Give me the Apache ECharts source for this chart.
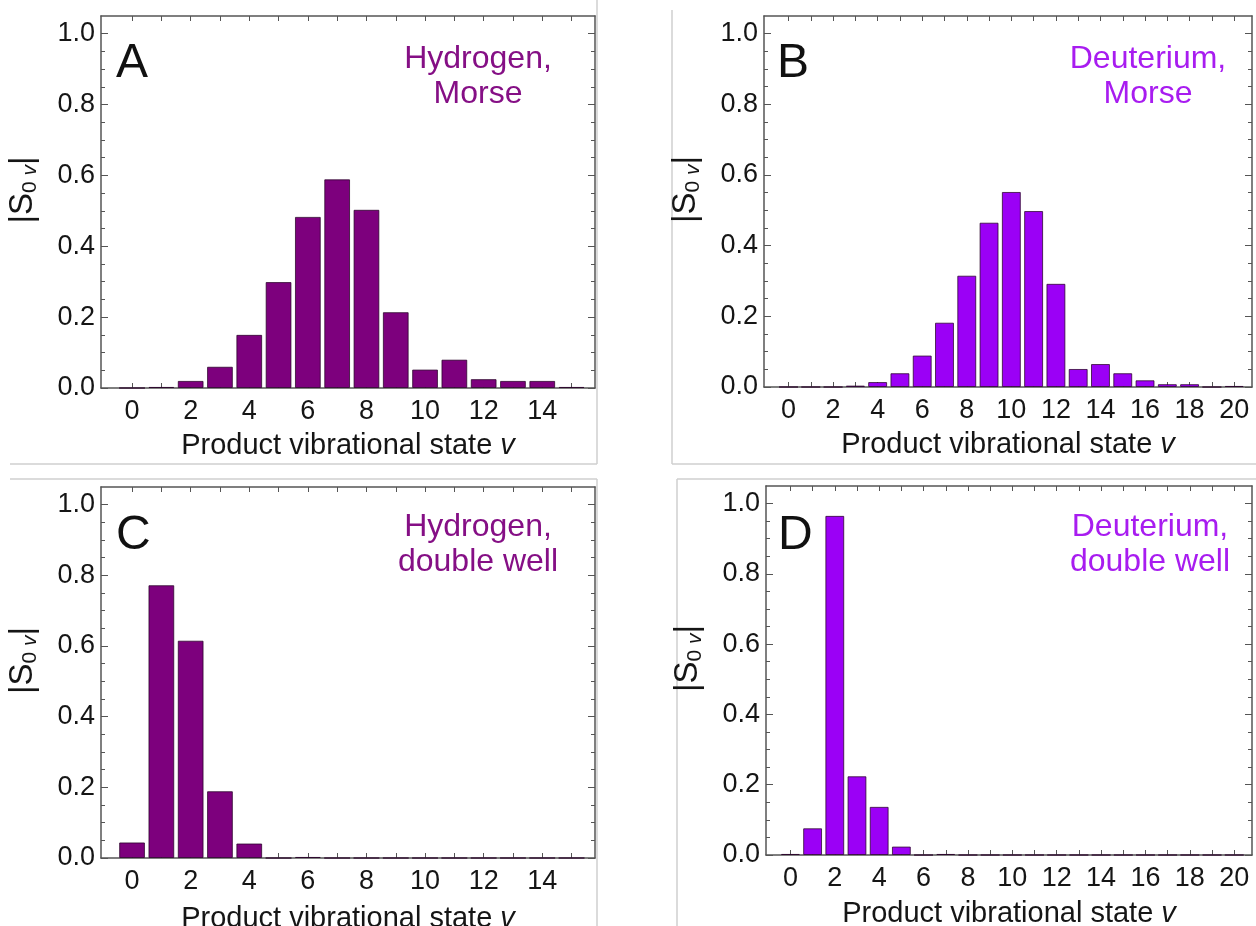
<!DOCTYPE html>
<html>
<head>
<meta charset="utf-8">
<script src="https://cdn.jsdelivr.net/npm/echarts@6/dist/echarts.min.js"></script>
<style>
html,body{margin:0;padding:0;background:#fff;}
#chart{width:1256px;height:926px;}
</style>
</head>
<body>
<div id="chart"></div>
<script>
// ---- data ----
const statesH = [0,1,2,3,4,5,6,7,8,9,10,11,12,13,14,15];
const statesD = [0,1,2,3,4,5,6,7,8,9,10,11,12,13,14,15,16,17,18,19,20];
const hydrogenMorse = [0.0, 0.003, 0.020, 0.060, 0.150, 0.299, 0.483, 0.589, 0.503, 0.214, 0.052, 0.080, 0.025, 0.020, 0.020, 0.003];
const deuteriumMorse = [0.0, 0.0, 0.0, 0.004, 0.014, 0.039, 0.089, 0.182, 0.315, 0.465, 0.552, 0.498, 0.292, 0.051, 0.065, 0.039, 0.019, 0.008, 0.008, 0.0, 0.003];
const hydrogenDouble = [0.044, 0.772, 0.615, 0.189, 0.041, 0.0, 0.003, 0.0, 0.0, 0.0, 0.0, 0.0, 0.0, 0.0, 0.0, 0.0];
const deuteriumDouble = [0.003, 0.076, 0.965, 0.224, 0.137, 0.024, 0.0, 0.003, 0.0, 0.0, 0.0, 0.0, 0.0, 0.0, 0.0, 0.0, 0.0, 0.0, 0.0, 0.0, 0.0];
const xLabelsH = [0,2,4,6,8,10,12,14];
const xLabelsD = [0,2,4,6,8,10,12,14,16,18,20];
const yLabels = [0,0.2,0.4,0.6,0.8,1.0];
const panelLetters = ['A','B','C','D'];
const panelNotes = ['Hydrogen,\nMorse','Deuterium,\nMorse','Hydrogen,\ndouble well','Deuterium,\ndouble well'];
const xTitle = 'Product vibrational state ';

// ---- styles ----
const purpleH = '#7d007d';
const purpleD = '#9b00f6';
const noteH = '#850f85';
const noteD = '#a81cf0';
const frameColor = '#555';
const font = 'Liberation Sans, Arial, Helvetica, sans-serif';

const panels = [
  {grid:{left:101, top:16, width:494, height:372}, states:statesH, values:hydrogenMorse, xmin:-1.06, xmax:15.8, labels:xLabelsH, color:purpleH, bw:'88%', gap:43},
  {grid:{left:764, top:16, width:488, height:371}, states:statesD, values:deuteriumMorse, xmin:-1.1, xmax:20.8, labels:xLabelsD, color:purpleD, bw:'85%', gap:43},
  {grid:{left:101, top:487, width:494, height:371}, states:statesH, values:hydrogenDouble, xmin:-1.06, xmax:15.8, labels:xLabelsH, color:purpleH, bw:'88%', gap:46},
  {grid:{left:766, top:486, width:486, height:369}, states:statesD, values:deuteriumDouble, xmin:-1.1, xmax:20.8, labels:xLabelsD, color:purpleD, bw:'85%', gap:44}
];

const grid = [], xAxis = [], yAxis = [], series = [];
const lineStyle = {color: frameColor, width: 1.5};
const txt = '#151515';
panels.forEach((p, i) => {
  grid.push(Object.assign({containLabel:false, outerBoundsMode:'none'}, p.grid));
  const intTicks = p.states.slice();
  xAxis.push({
    type:'value', gridIndex:i, position:'bottom', min:p.xmin, max:p.xmax,
    axisLine:{show:true, onZero:false, lineStyle},
    axisTick:{show:true, inside:true, length:5, customValues:intTicks, lineStyle:{color:frameColor, width:1}},
    axisLabel:{show:true, customValues:p.labels, margin:10, fontSize:27, color:txt, fontFamily:font},
    splitLine:{show:false},
    name: xTitle + '{v|v}', nameLocation:'middle', nameGap:p.gap,
    nameTextStyle:{fontSize:29, color:txt, fontFamily:font, rich:{v:{fontSize:29, fontStyle:'italic', color:txt, fontFamily:font}}}
  });
  xAxis.push({
    type:'value', gridIndex:i, position:'top', min:p.xmin, max:p.xmax,
    axisLine:{show:true, onZero:false, lineStyle},
    axisTick:{show:true, inside:true, length:5, customValues:intTicks, lineStyle:{color:frameColor, width:1}},
    axisLabel:{show:false}, splitLine:{show:false}
  });
  const yBase = {
    type:'value', gridIndex:i, min:0, max:1.05, interval:0.2,
    axisLine:{show:true, onZero:false, lineStyle},
    axisTick:{show:true, inside:true, length:7, customValues:yLabels, lineStyle:{color:frameColor, width:1}},
    minorTick:{show:true, splitNumber:4, length:4, lineStyle:{color:frameColor, width:1}},
    splitLine:{show:false}, minorSplitLine:{show:false}
  };
  yAxis.push(Object.assign({}, yBase, {
    position:'left',
    axisLabel:{show:true, customValues:yLabels, margin:6, fontSize:27, color:txt, fontFamily:font,
      formatter:(v)=> v.toFixed(1)},
    name:'{a||S}{b|0 }{c|v}{a||}', nameLocation:'middle', nameGap:60, nameRotate:90,
    nameTextStyle:{fontFamily:font, color:txt, padding:[0,0,0,24],
      rich:{
        a:{fontSize:33, fontFamily:font, color:txt, lineHeight:37},
        b:{fontSize:21, fontFamily:font, color:txt, verticalAlign:'bottom', lineHeight:26},
        c:{fontSize:21, fontFamily:font, fontStyle:'italic', color:txt, verticalAlign:'bottom', lineHeight:26}
      }}
  }));
  yAxis.push(Object.assign({}, yBase, {position:'right', axisLabel:{show:false}}));
  series.push({
    type:'bar', xAxisIndex:2*i, yAxisIndex:2*i, barWidth:p.bw,
    data: p.states.map((s, k) => [s, p.values[k]]),
    itemStyle:{color:p.color, borderColor:'rgba(40,0,40,0.75)', borderWidth:1},
    emphasis:{disabled:true}, animation:false
  });
});

const border = '#cfcfcf';
const graphic = [
  {type:'line', shape:{x1:10,y1:464,x2:597,y2:464}, style:{stroke:border, lineWidth:1.5}},
  {type:'line', shape:{x1:597,y1:0,x2:597,y2:464}, style:{stroke:border, lineWidth:1.5}},
  {type:'line', shape:{x1:10,y1:479,x2:597,y2:479}, style:{stroke:border, lineWidth:1.5}},
  {type:'line', shape:{x1:597,y1:479,x2:597,y2:926}, style:{stroke:border, lineWidth:1.5}},
  {type:'line', shape:{x1:672,y1:10,x2:672,y2:464}, style:{stroke:border, lineWidth:1.5}},
  {type:'line', shape:{x1:672,y1:464,x2:1256,y2:464}, style:{stroke:border, lineWidth:1.5}},
  {type:'line', shape:{x1:677,y1:479,x2:1256,y2:479}, style:{stroke:border, lineWidth:1.5}},
  {type:'line', shape:{x1:677,y1:479,x2:677,y2:926}, style:{stroke:border, lineWidth:1.5}}
];
const letterPos = [[116,64],[777,64],[116,536],[778,536]];
const notePos = [[478,42],[1148,42],[478,510],[1150,510]];
panels.forEach((p, i) => {
  graphic.push({type:'text', x:letterPos[i][0], y:letterPos[i][1],
    style:{text:panelLetters[i], fontSize:48, fontFamily:font, fill:'#111', textAlign:'left', textVerticalAlign:'middle'}});
  graphic.push({type:'text', x:notePos[i][0], y:notePos[i][1],
    style:{text:panelNotes[i], fontSize:32, lineHeight:35, fontFamily:font, fill:(i%2===0?noteH:noteD), textAlign:'center', textVerticalAlign:'top'}});
});

const chart = echarts.init(document.getElementById('chart'), null, {renderer:'canvas'});
chart.setOption({
  animation:false,
  backgroundColor:'#fff',
  grid, xAxis, yAxis, series, graphic
});
</script>
</body>
</html>
